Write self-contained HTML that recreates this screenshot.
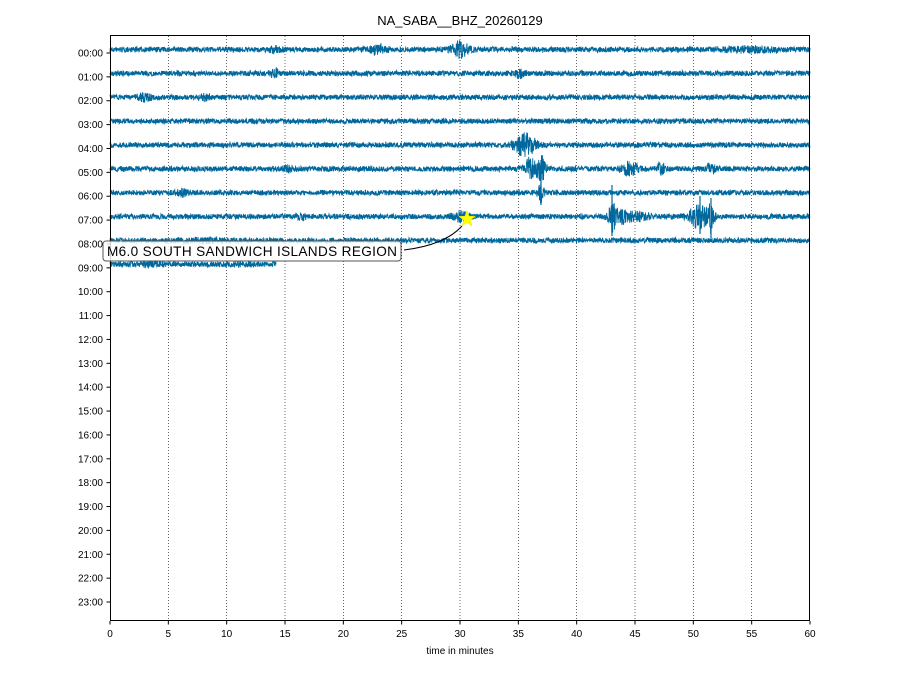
<!DOCTYPE html>
<html><head><style>
body{margin:0;background:#fff;}
svg{display:block;font-family:"Liberation Sans","DejaVu Sans",sans-serif;}
</style></head><body>
<svg id="s" width="919" height="690" xmlns="http://www.w3.org/2000/svg">
<rect width="919" height="690" fill="#fff"/>
<text x="460" y="25" font-size="13" text-anchor="middle">NA_SABA__BHZ_20260129</text>
<g id="grid"></g>
<g id="traces"></g>
<rect x="110.5" y="35.5" width="699" height="585" fill="none" stroke="#000" stroke-width="1"/>
<g id="ticks" font-size="10"></g>
<text x="460" y="654" font-size="10" text-anchor="middle">time in minutes</text>
<path d="M404,250 Q445,245 462,226" fill="none" stroke="#000" stroke-width="1"/>
<rect x="103" y="241" width="298" height="20" rx="3" fill="#fff" fill-opacity="0.8" stroke="#555"/>
<text x="252" y="256" font-size="13.6" text-anchor="middle" textLength="290">M6.0 SOUTH SANDWICH ISLANDS REGION</text>
<polygon id="star" fill="#ffff00" stroke="#e8e800" stroke-width="0.5"/>
</svg>
<script>
var NS="http://www.w3.org/2000/svg";
function el(t,a,p){var e=document.createElementNS(NS,t);for(var k in a)e.setAttribute(k,a[k]);p.appendChild(e);return e;}
var g=document.getElementById('grid'),tr=document.getElementById('traces'),tk=document.getElementById('ticks');
for(var m=5;m<60;m+=5){var x=110+m*700/60;el('line',{x1:x,x2:x,y1:36,y2:620,stroke:'#000','stroke-width':0.6,'stroke-dasharray':'1,2'},g);}
for(var m=0;m<=60;m+=5){var x=110+m*700/60;el('line',{x1:x,x2:x,y1:621,y2:624.5,stroke:'#000'},tk);var t=el('text',{x:x,y:637,'text-anchor':'middle'},tk);t.textContent=m;}
for(var h=0;h<24;h++){var y=53+h*23.87;el('line',{x1:106.5,x2:110,y1:y,y2:y,stroke:'#000'},tk);var t=el('text',{x:103,y:y+3.5,'text-anchor':'end'},tk);t.textContent=(h<10?'0':'')+h+':00';}
var seed=7;function r(){seed=(seed*16807)%2147483647;return seed/2147483647-0.5;}
var ev={0:[[460,7,6],[378,4,6],[275,2,4],[750,2,20]],1:[[520,3,4],[275,3,4]],2:[[145,3,5],[205,2,4]],4:[[522,8,6],[530,5,6]],
5:[[530,10,4],[541,12,3],[630,6,6],[661,5,3],[711,5,3],[288,2,5]],6:[[541,8,2],[183,3,4]],
7:[[612,14,2],[620,6,8],[640,3,8],[700,12,7],[711,12,2],[460,4,6],[302,2,3]],8:[[200,1,20]],9:[[150,2,10],[240,1,10]]};
for(var h=0;h<10;h++){
 var base=49.5+h*23.87,xe=(h==9)?276:810,d='';
 for(var x=110;x<=xe;x+=0.25){
  var a=2.3+Math.abs(r())*1.2;
  var es=ev[h]||[];
  for(var i=0;i<es.length;i++){var dx=x-es[i][0];a+=es[i][1]*Math.exp(-dx*dx/(2*es[i][2]*es[i][2]));}
  var y=base+r()*2*a;
  d+=(x==110?'M':'L')+x+','+y.toFixed(1);
 }
 el('path',{d:d,fill:'none',stroke:'#00689d','stroke-width':0.9},tr);
}
el('path',{d:'M541,160 L541,205 M612,185 L612,236 M711,198 L711,238 M700,196 L700,234',stroke:'#00689d','stroke-width':1.2},tr);
var cx=467,cy=219,p=[];for(var i=0;i<10;i++){var rr=i%2?3.5:8.5,an=-Math.PI/2+i*Math.PI/5;p.push((cx+rr*Math.cos(an)).toFixed(1)+','+(cy+rr*Math.sin(an)).toFixed(1));}
document.getElementById('star').setAttribute('points',p.join(' '));
</script>
</body></html>
